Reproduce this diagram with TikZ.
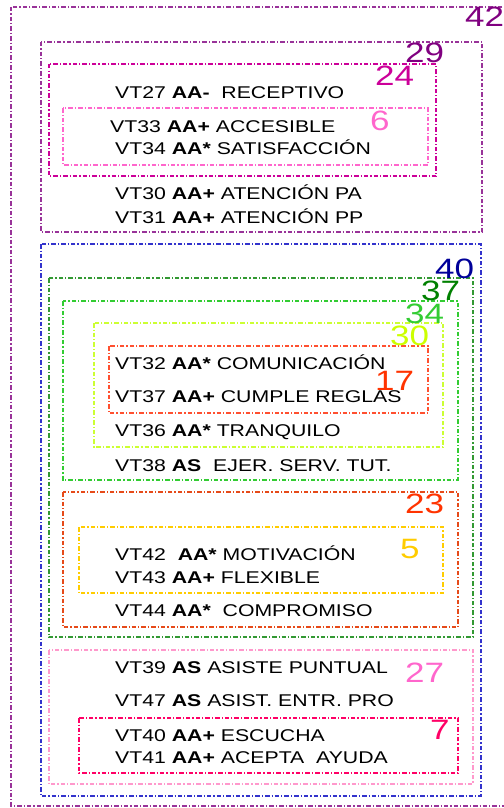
\documentclass[tikz,border=0pt]{standalone}
\usepackage{fontspec}
\setmainfont[FakeStretch=1.25]{Liberation Sans}
\definecolor{c42}{HTML}{993399}
\definecolor{t42}{HTML}{800080}
\definecolor{c24}{HTML}{CC0099}
\definecolor{c6}{HTML}{FF66CC}
\definecolor{c40}{HTML}{3333CC}
\definecolor{t40}{HTML}{000099}
\definecolor{c37}{HTML}{339933}
\definecolor{t37}{HTML}{008000}
\definecolor{c34}{HTML}{33CC33}
\definecolor{c30}{HTML}{CCFF33}
\definecolor{t30}{HTML}{CCFF00}
\definecolor{c17}{HTML}{FF5030}
\definecolor{t17}{HTML}{FF3300}
\definecolor{c23}{HTML}{E64A19}
\definecolor{c5}{HTML}{FFCC00}
\definecolor{c27}{HTML}{FF99CC}
\definecolor{c7}{HTML}{FF0066}
\begin{document}
\begin{tikzpicture}[x=1pt,y=-1pt,
  grp/.style={line width=1.1pt, dash pattern=on 4.5pt off 2pt on 1.2pt off 2pt},
  item/.style={anchor=base west, inner sep=0pt, font=\fontsize{17}{20}\selectfont},
  num/.style={anchor=base west, inner sep=0pt, font=\fontsize{28}{32}\selectfont}]
\useasboundingbox (0,0) rectangle (503,808);
% boxes
\draw[grp,c42] (11,7) rectangle (515,806);
\draw[grp,c42] (41,42) rectangle (482,232);
\draw[grp,c24] (49,64) rectangle (436,176);
\draw[grp,c6] (63,108) rectangle (428,165);
\draw[grp,c40] (41,244) rectangle (481,796);
\draw[grp,c37] (49,278) rectangle (473,637);
\draw[grp,c34] (63,301) rectangle (458,480);
\draw[grp,c30] (94,323) rectangle (443,447);
\draw[grp,c17] (109,346) rectangle (428,413);
\draw[grp,c23] (63,492) rectangle (458,627);
\draw[grp,c5] (79,527) rectangle (443,593);
\draw[grp,c27] (49,650) rectangle (473,784);
\draw[grp,c7] (79,718) rectangle (458,773);
% labels
\node[num,text=t42] (n42) at (465,27) {42};
\node[num,text=t42] (n29) at (405,63) {29};
\node[num,text=c24] (n24) at (375,85) {24};
\node[num,text=c6] (n6) at (370,130) {6};
\node[num,text=t40] (n40) at (435,278) {40};
\node[num,text=t37] (n37) at (421,300) {37};
\node[num,text=c34] (n34) at (405,323) {34};
\node[num,text=t30] (n30) at (390,345) {30};
\node[num,text=t17] (n17) at (375,390) {17};
\node[num,text=t17] (n23) at (405,513) {23};
\node[num,text=c5] (n5) at (400,558) {5};
\node[num,text=c6] (n27) at (405,682) {27};
\node[num,text=c7] (n7) at (430,739) {7};
% items
\node[item] (vt27) at (115,98) {VT27 \textbf{AA-}~ RECEPTIVO};
\node[item] (vt33) at (110,132) {VT33 \textbf{AA+} ACCESIBLE};
\node[item] (vt34) at (115,154) {VT34 \textbf{AA*} SATISFACCIÓN};
\node[item] (vt30) at (115,199) {VT30 \textbf{AA+} ATENCIÓN PA};
\node[item] (vt31) at (115,223) {VT31 \textbf{AA+} ATENCIÓN PP};
\node[item] (vt32) at (115,369) {VT32 \textbf{AA*} COMUNICACIÓN};
\node[item] (vt37) at (115,402) {VT37 \textbf{AA+} CUMPLE REGLAS};
\node[item] (vt36) at (115,436) {VT36 \textbf{AA*} TRANQUILO};
\node[item] (vt38) at (115,471) {VT38 \textbf{AS}~ EJER. SERV. TUT.};
\node[item] (vt42) at (115,560) {VT42~ \textbf{AA*} MOTIVACIÓN};
\node[item] (vt43) at (115,583) {VT43 \textbf{AA+} FLEXIBLE};
\node[item] (vt44) at (115,616) {VT44 \textbf{AA*}~ COMPROMISO};
\node[item] (vt39) at (115,673) {VT39 \textbf{AS} ASISTE PUNTUAL};
\node[item] (vt47) at (115,706) {VT47 \textbf{AS} ASIST. ENTR. PRO};
\node[item] (vt40) at (115,741) {VT40 \textbf{AA+} ESCUCHA};
\node[item] (vt41) at (115,763) {VT41 \textbf{AA+} ACEPTA~ AYUDA};
\end{tikzpicture}
\end{document}
